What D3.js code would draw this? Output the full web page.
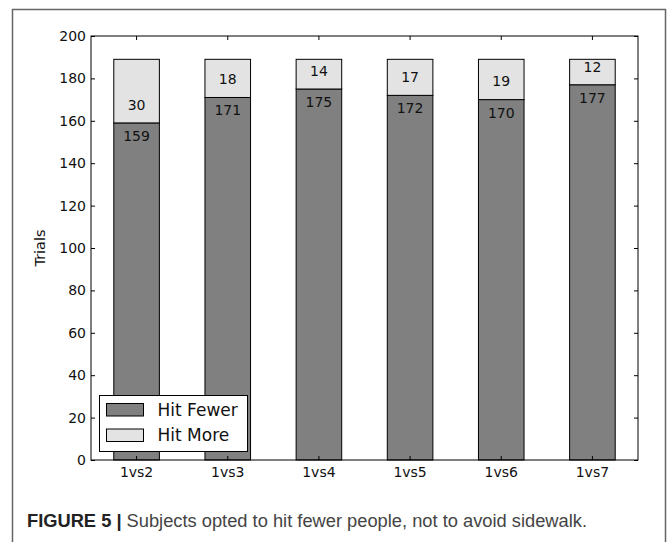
<!DOCTYPE html>
<html>
<head>
<meta charset="utf-8">
<script src="https://cdn.jsdelivr.net/npm/d3@7"></script>
<style>
  html, body { margin: 0; padding: 0; background: #fff; }
  svg { display: block; }
</style>
</head>
<body>
<svg id="chart" width="667" height="542"></svg>
<script>
const categories = ["1vs2", "1vs3", "1vs4", "1vs5", "1vs6", "1vs7"];
const hitFewer = [159, 171, 175, 172, 170, 177];
const hitMore = [30, 18, 14, 17, 19, 12];
const yTicks = [0, 20, 40, 60, 80, 100, 120, 140, 160, 180, 200];
const seriesNames = ["Hit Fewer", "Hit More"];
const seriesColors = ["#808080", "#e3e3e3"];

const svg = d3.select("#chart");
const W = 667, H = 542;
const plot = { left: 91, right: 638, top: 36, bottom: 460 };
const fontAxis = "'DejaVu Sans', sans-serif";

// outer figure frame (open at the bottom)
svg.append("path")
  .attr("d", `M12.5,${H} V9.5 H665.5 V${H}`)
  .attr("fill", "none")
  .attr("stroke", "#666")
  .attr("stroke-width", 1.5);

const x = d3.scaleBand().domain(categories)
  .range([plot.left, plot.right]).paddingInner(0.5).paddingOuter(0.25);
const y = d3.scaleLinear().domain([0, 200]).range([plot.bottom, plot.top]);

const data = categories.map((c, i) => ({ c, fewer: hitFewer[i], more: hitMore[i] }));

const g = svg.append("g");

// Hit Fewer bars
g.selectAll("rect.fewer").data(data).enter().append("rect")
  .attr("class", "fewer")
  .attr("x", d => x(d.c))
  .attr("width", x.bandwidth())
  .attr("y", d => y(d.fewer))
  .attr("height", d => y(0) - y(d.fewer))
  .attr("fill", seriesColors[0])
  .attr("stroke", "#000").attr("stroke-width", 1);

// Hit More bars
g.selectAll("rect.more").data(data).enter().append("rect")
  .attr("class", "more")
  .attr("x", d => x(d.c))
  .attr("width", x.bandwidth())
  .attr("y", d => y(d.fewer + d.more))
  .attr("height", d => y(d.fewer) - y(d.fewer + d.more))
  .attr("fill", seriesColors[1])
  .attr("stroke", "#000").attr("stroke-width", 1);

// value labels
g.selectAll("text.lf").data(data).enter().append("text")
  .attr("x", d => x(d.c) + x.bandwidth() / 2)
  .attr("y", d => y(d.fewer) + 13)
  .attr("dy", "0.35em")
  .attr("text-anchor", "middle")
  .attr("font-family", fontAxis).attr("font-size", 14).attr("fill", "#111")
  .text(d => d.fewer);

g.selectAll("text.lm").data(data).enter().append("text")
  .attr("x", d => x(d.c) + x.bandwidth() / 2)
  .attr("y", d => y(d.fewer + 8.5))
  .attr("dy", "0.35em")
  .attr("text-anchor", "middle")
  .attr("font-family", fontAxis).attr("font-size", 14).attr("fill", "#111")
  .text(d => d.more);

// axes (ticks pointing inward)
const axL = d3.axisLeft(y).tickValues(yTicks).tickSizeInner(-4).tickSizeOuter(0).tickPadding(5);
const axR = d3.axisRight(y).tickValues(yTicks).tickSizeInner(-4).tickSizeOuter(0).tickFormat("");
const axB = d3.axisBottom(x).tickSizeInner(-4).tickSizeOuter(0).tickPadding(7);
const axT = d3.axisTop(x).tickSizeInner(-4).tickSizeOuter(0).tickFormat("");

function styleAxis(sel) {
  sel.selectAll("path, line").attr("stroke", "#000");
  sel.selectAll("text").attr("font-family", fontAxis).attr("font-size", 14).attr("fill", "#111");
  sel.select(".domain").remove();
}
svg.append("g").attr("transform", `translate(${plot.left},0)`).call(axL).call(styleAxis);
svg.append("g").attr("transform", `translate(${plot.right},0)`).call(axR).call(styleAxis);
svg.append("g").attr("transform", `translate(0,${plot.bottom})`).call(axB).call(styleAxis);
svg.append("g").attr("transform", `translate(0,${plot.top})`).call(axT).call(styleAxis);

// plot frame
svg.append("rect")
  .attr("x", plot.left).attr("y", plot.top)
  .attr("width", plot.right - plot.left).attr("height", plot.bottom - plot.top)
  .attr("fill", "none").attr("stroke", "#000").attr("stroke-width", 1);

// y label
svg.append("text")
  .attr("transform", `translate(40,${(plot.top + plot.bottom) / 2}) rotate(-90)`)
  .attr("text-anchor", "middle")
  .attr("dy", "0.35em")
  .attr("font-family", fontAxis).attr("font-size", 14.5).attr("fill", "#111")
  .text("Trials");

// legend
const leg = svg.append("g").attr("transform", "translate(99.5,395.5)");
leg.append("rect").attr("width", 148).attr("height", 56)
  .attr("fill", "#fff").attr("stroke", "#000").attr("stroke-width", 1);
seriesNames.forEach((name, i) => {
  leg.append("rect")
    .attr("x", 7).attr("y", 8 + i * 25.5)
    .attr("width", 37).attr("height", 12.5)
    .attr("fill", seriesColors[i]).attr("stroke", "#000").attr("stroke-width", 1);
  leg.append("text")
    .attr("x", 58).attr("y", 14 + i * 25.5)
    .attr("dy", "0.36em")
    .attr("font-family", fontAxis).attr("font-size", 17).attr("fill", "#111")
    .text(name);
});

// caption
const cap = svg.append("text")
  .attr("x", 27).attr("y", 527)
  .attr("font-family", "'Liberation Sans', Arial, sans-serif")
  .attr("font-size", 18.3);
cap.append("tspan").attr("font-weight", "bold").attr("fill", "#222").text("FIGURE 5 | ");
cap.append("tspan").attr("fill", "#444").text("Subjects opted to hit fewer people, not to avoid sidewalk.");
</script>
</body>
</html>
